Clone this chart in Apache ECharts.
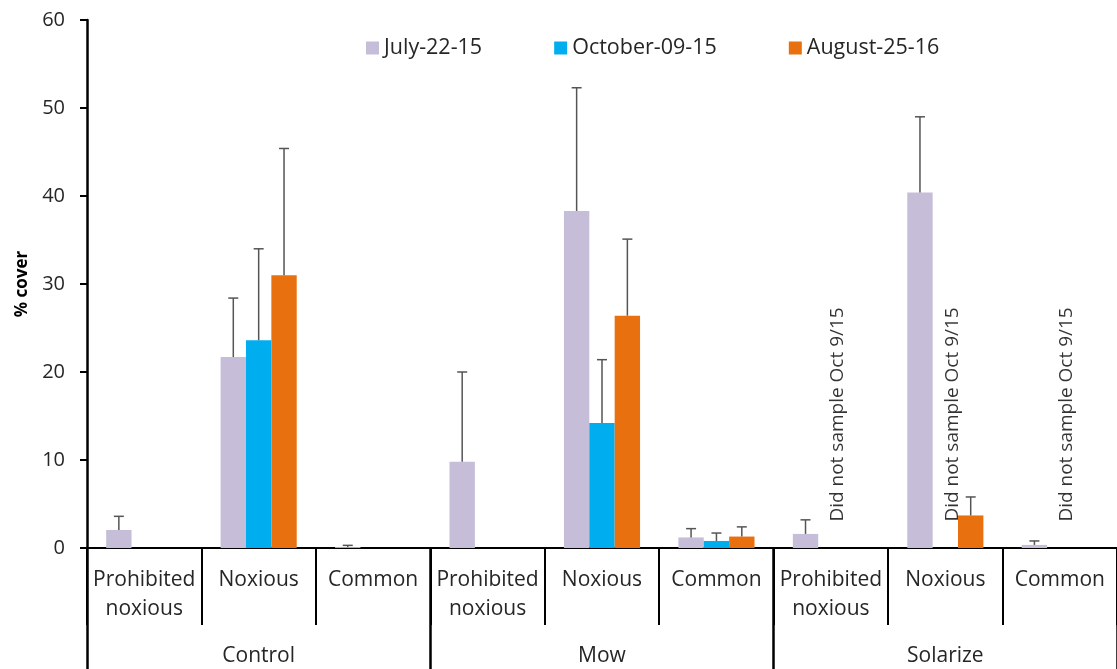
<!DOCTYPE html>
<html>
<head>
<meta charset="utf-8">
<script src="https://cdn.jsdelivr.net/npm/echarts@6/dist/echarts.min.js"></script>
<style>
  html, body { margin: 0; padding: 0; background: #fff; }
  #chart { width: 1117px; height: 669px; }
</style>
</head>
<body>
<div id="chart"></div>
<script>
// categories
var subCategories = ['Prohibited\nnoxious', 'Noxious', 'Common',
                     'Prohibited\nnoxious', 'Noxious', 'Common',
                     'Prohibited\nnoxious', 'Noxious', 'Common'];
var groups = ['Control', 'Mow', 'Solarize'];
var seriesNames = ['July-22-15', 'October-09-15', 'August-25-16'];

// % cover (mean) per date
var july = [2.05, 21.7, 0.1, 9.8, 38.3, 1.2, 1.6, 40.4, 0.35];
var october = [null, 23.6, null, null, 14.2, 0.8, null, null, null];
var august = [null, 31.0, null, null, 26.4, 1.3, null, 3.7, null];

// upper error (added to mean)
var julyErr = [1.55, 6.7, 0.2, 10.2, 14.0, 1.0, 1.6, 8.6, 0.45];
var octoberErr = [null, 10.4, null, null, 7.2, 0.9, null, null, null];
var augustErr = [null, 14.4, null, null, 8.7, 1.1, null, 2.1, null];

// where the "not sampled" note is written
var noteIndex = [6, 7, 8];
var noteValue = 3;
var noteText = 'Did not sample Oct 9/15';

var colors = ['#c6bdd9', '#00aeef', '#e8700f'];
var catGap = 0.335;

function errData(vals, errs) {
    var out = [];
    vals.forEach(function (v, i) {
        if (v != null && errs[i] != null) out.push([i, v, errs[i]]);
    });
    return out;
}

function errSeries(k, vals, errs) {
    return {
        type: 'custom',
        xAxisIndex: 0,
        silent: true,
        z: 5,
        data: errData(vals, errs),
        renderItem: function (params, api) {
            var base = api.coord([api.value(0), api.value(1)]);
            var top = api.coord([api.value(0), api.value(1) + api.value(2)]);
            var band = api.size([1, 0])[0];
            var barW = band * (1 - catGap) / 3;
            var cx = base[0] + (k - 1) * barW;
            var style = { stroke: '#555', lineWidth: 1.5 };
            return {
                type: 'group',
                children: [
                    { type: 'line', shape: { x1: cx, y1: base[1], x2: cx, y2: top[1] }, style: style },
                    { type: 'line', shape: { x1: cx - 5, y1: top[1], x2: cx + 5, y2: top[1] }, style: style }
                ]
            };
        }
    };
}

var myEcharts = echarts.init(document.getElementById('chart'));
var option = {
    animation: false,
    textStyle: { fontFamily: 'Open Sans' },
    legend: {
        data: seriesNames,
        left: 361,
        top: 32,
        icon: 'rect',
        itemWidth: 13,
        itemHeight: 13,
        itemGap: 72,
        textStyle: { fontSize: 21.5, color: '#262626', fontFamily: 'Open Sans' }
    },
    grid: { left: 87, top: 20, width: 1035, height: 528 },
    xAxis: [
        {
            type: 'category',
            data: subCategories,
            axisLine: { lineStyle: { color: '#000', width: 2 } },
            axisTick: { show: true, interval: 0, length: 77, lineStyle: { color: '#000', width: 2 } },
            axisLabel: { interval: 0, fontSize: 21, lineHeight: 29, margin: 18, color: '#262626' }
        },
        {
            type: 'category',
            data: groups,
            position: 'bottom',
            axisLine: { show: false },
            axisTick: { show: true, length: 121, lineStyle: { color: '#000', width: 2.5 } },
            axisLabel: { fontSize: 21, margin: 98, color: '#262626' }
        }
    ],
    yAxis: {
        type: 'value',
        min: 0,
        max: 60,
        interval: 10,
        name: '% cover',
        nameLocation: 'middle',
        nameGap: 56,
        nameTextStyle: { fontSize: 17, fontWeight: 'bold', color: '#000' },
        splitLine: { show: false },
        axisLine: { show: true, lineStyle: { color: '#000', width: 2.5 } },
        axisTick: { show: true, length: 7, lineStyle: { color: '#000', width: 2 } },
        axisLabel: { fontSize: 20, margin: 22, color: '#262626' }
    },
    series: [
        { name: seriesNames[0], type: 'bar', data: july, barGap: 0, barCategoryGap: (catGap * 100) + '%', itemStyle: { color: colors[0] } },
        { name: seriesNames[1], type: 'bar', data: october, barGap: 0, barCategoryGap: (catGap * 100) + '%', itemStyle: { color: colors[1] } },
        { name: seriesNames[2], type: 'bar', data: august, barGap: 0, barCategoryGap: (catGap * 100) + '%', itemStyle: { color: colors[2] } },
        errSeries(0, july, julyErr),
        errSeries(1, october, octoberErr),
        errSeries(2, august, augustErr),
        {
            type: 'scatter',
            symbolSize: 0,
            silent: true,
            data: noteIndex.map(function (i) { return [i, noteValue]; }),
            label: {
                show: true,
                position: 'inside',
                rotate: 90,
                align: 'left',
                verticalAlign: 'middle',
                offset: [0, 7],
                formatter: noteText,
                fontSize: 19,
                color: '#000',
                fontFamily: 'Open Sans'
            }
        }
    ]
};
myEcharts.setOption(option);
</script>
</body>
</html>
